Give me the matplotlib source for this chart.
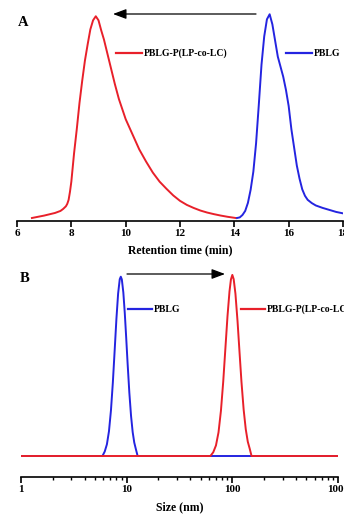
import matplotlib
matplotlib.use("Agg")
import matplotlib.pyplot as plt
from matplotlib.lines import Line2D
from matplotlib.patches import FancyArrowPatch
from matplotlib.ticker import LogLocator, FixedLocator, NullFormatter

plt.rcParams['font.family'] = ['Liberation Serif', 'DejaVu Serif']
plt.rcParams['font.weight'] = 'bold'

RED = '#e8202a'
BLUE = '#2424e0'

# Panel A: GPC traces (retention time, min ; normalized intensity)
gpc_copolymer_t = [6.55, 7.0, 7.4, 7.6, 7.7, 7.8, 7.85, 7.9, 7.95, 8.0, 8.1, 8.2, 8.3, 8.4,
                   8.5, 8.6, 8.7, 8.8, 8.9, 9.0, 9.1, 9.2, 9.3, 9.4, 9.5, 9.6, 9.75, 10.0,
                   10.25, 10.5, 10.75, 11.0, 11.25, 11.5, 11.75, 12.0, 12.25, 12.5, 12.75,
                   13.0, 13.25, 13.5, 13.75, 14.05]
gpc_copolymer_i = [0.0, 0.012, 0.025, 0.035, 0.045, 0.058, 0.07, 0.09, 0.13, 0.18, 0.32,
                   0.44, 0.57, 0.68, 0.78, 0.86, 0.935, 0.98, 1.0, 0.98, 0.93, 0.885, 0.83,
                   0.775, 0.72, 0.665, 0.59, 0.49, 0.415, 0.34, 0.28, 0.225, 0.18, 0.145,
                   0.112, 0.085, 0.065, 0.05, 0.037, 0.027, 0.019, 0.012, 0.006, 0.0]
gpc_pblg_t = [14.1, 14.2, 14.3, 14.4, 14.5, 14.6, 14.7, 14.8, 14.9, 15.0, 15.1, 15.2, 15.3,
              15.4, 15.5, 15.6, 15.7, 15.8, 15.9, 16.0, 16.1, 16.2, 16.3, 16.4, 16.5, 16.6,
              16.7, 16.85, 17.0, 17.25, 17.5, 17.75, 18.0]
gpc_pblg_i = [0.0, 0.003, 0.015, 0.035, 0.075, 0.14, 0.23, 0.37, 0.56, 0.76, 0.9, 0.985,
              1.01, 0.96, 0.88, 0.8, 0.75, 0.70, 0.635, 0.555, 0.44, 0.35, 0.26, 0.195,
              0.142, 0.11, 0.09, 0.074, 0.062, 0.05, 0.04, 0.03, 0.023]
gpc_ticks = [6, 8, 10, 12, 14, 16, 18]

# Panel B: DLS size distributions (size, nm ; normalized intensity)
dls_pblg_size = [1, 5.9, 6.2, 6.5, 6.8, 7.1, 7.4, 7.7, 8.0, 8.3, 8.6, 8.8, 9.0, 9.3, 9.6,
                 9.9, 10.2, 10.6, 11.0, 11.4, 11.8, 12.2, 12.7, 1000]
dls_pblg_i = [0, 0, 0.025, 0.065, 0.138, 0.254, 0.41, 0.59, 0.766, 0.906, 0.986, 1.0, 0.985,
              0.912, 0.796, 0.659, 0.519, 0.353, 0.224, 0.133, 0.075, 0.04, 0, 0]
dls_copolymer_size = [1, 62, 66, 70, 74, 78, 82, 86, 90, 94, 97, 100, 103, 107, 112, 117,
                      122, 128, 134, 140, 146, 152, 1000]
dls_copolymer_i = [0, 0, 0.021, 0.059, 0.132, 0.252, 0.415, 0.602, 0.78, 0.918, 0.985, 1.01,
                   0.986, 0.905, 0.752, 0.578, 0.414, 0.258, 0.149, 0.08, 0.041, 0, 0]
dls_ticks = [1, 10, 100, 1000]

W, H = 344, 514
fig = plt.figure(figsize=(W / 100, H / 100), dpi=100)

def fx(px):
    return px / W

def fy(py):
    return 1 - py / H

lw = 1.4

# ---- Panel A ----
axA = fig.add_axes([fx(17), fy(221), fx(343 - 17), (221 - 8) / H])
axA.plot(gpc_copolymer_t, gpc_copolymer_i, color=RED, lw=lw, solid_joinstyle='round')
axA.plot(gpc_pblg_t, gpc_pblg_i, color=BLUE, lw=lw, solid_joinstyle='round')
axA.set_xlim(6, 18)
axA.set_ylim(-0.0149, 1.041)
axA.set_xticks(gpc_ticks)
axA.set_xticklabels([str(t) for t in gpc_ticks])
axA.set_xlabel('Retention time (min)', fontsize=8.5, fontweight='bold', labelpad=4)

# ---- Panel B ----
axB = fig.add_axes([fx(21), fy(477), fx(338 - 21), (477 - 262) / H])
axB.plot(dls_pblg_size, dls_pblg_i, color=BLUE, lw=lw, solid_joinstyle='round')
axB.plot(dls_copolymer_size, dls_copolymer_i, color=RED, lw=lw, solid_joinstyle='round')
axB.set_xscale('log')
axB.set_xlim(1, 1000)
axB.set_ylim(-0.1171, 1.082)
axB.xaxis.set_major_locator(FixedLocator(dls_ticks))
axB.set_xticklabels([str(t) for t in dls_ticks])
axB.xaxis.set_minor_locator(LogLocator(base=10, subs=range(2, 10)))
axB.xaxis.set_minor_formatter(NullFormatter())
axB.set_xlabel('Size (nm)', fontsize=8.5, fontweight='bold', labelpad=5)

for ax in (axA, axB):
    for s in ('left', 'right', 'top'):
        ax.spines[s].set_visible(False)
    ax.spines['bottom'].set_linewidth(1.2)
    ax.set_yticks([])
    ax.tick_params(axis='x', which='major', direction='out', length=4, width=1.2,
                   labelsize=8, pad=2)
    ax.tick_params(axis='x', which='minor', direction='out', length=2.2, width=1.0)
    ax.patch.set_alpha(0)
    for lab in ax.get_xticklabels():
        lab.set_fontweight('bold')

# Panel letters
fig.text(fx(23), fy(23), 'A', fontsize=10.5, fontweight='bold', ha='center', va='center')
fig.text(fx(25), fy(278), 'B', fontsize=10.5, fontweight='bold', ha='center', va='center')

# Arrows
arrow_kw = dict(arrowstyle='-|>,head_length=0.8,head_width=0.3', mutation_scale=10,
                color='black', lw=0.9, shrinkA=0, shrinkB=0)
fig.add_artist(FancyArrowPatch((fx(256), fy(14)), (fx(113), fy(14)),
                               transform=fig.transFigure, **arrow_kw))
fig.add_artist(FancyArrowPatch((fx(127), fy(274)), (fx(225), fy(274)),
                               transform=fig.transFigure, **arrow_kw))

# Legend-like labels
def legend_item(x0, x1, y, color, text):
    fig.add_artist(Line2D([fx(x0), fx(x1)], [fy(y), fy(y)], color=color, lw=1.6,
                          transform=fig.transFigure))
    fig.text(fx(x1 + 2), fy(y), text, fontsize=7, fontweight='bold', ha='left',
             va='center')

legend_item(116, 142, 53, RED, 'PBLG-P(LP-co-LC)')
legend_item(286, 312, 53, BLUE, 'PBLG')
legend_item(128, 152, 309, BLUE, 'PBLG')
legend_item(241, 265, 309, RED, 'PBLG-P(LP-co-LC)')

fig.savefig('out.png', dpi=100)
